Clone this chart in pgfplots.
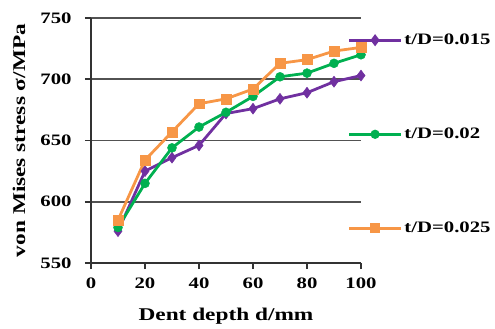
\documentclass[border=0pt]{standalone}
\usepackage{pgfplots}
\pgfplotsset{compat=1.18}
\usepackage{fontspec}
\setmainfont{Liberation Serif}[FakeStretch=1.3]
\definecolor{cpurple}{HTML}{7030A0}
\definecolor{cgreen}{HTML}{00B050}
\definecolor{corange}{HTML}{F79646}
\begin{document}
\begin{tikzpicture}
\begin{axis}[
  scale only axis,
  at={(0,0)}, anchor=south west,
  width=270bp, height=245bp,
  xmin=0, xmax=100, ymin=550, ymax=750,
  xtick={0,20,...,100}, ytick={550,600,...,750},
  axis x line*=bottom, axis y line*=left,
  axis line style={line width=1.6pt, black!80},
  tick style={line width=1.6pt, black!80},
  tick align=outside, major tick length=6bp,
  ymajorgrids, grid style={line width=1.8pt, black!68},
  /pgf/number format/assume math mode=true,
  /pgf/number format/1000 sep={},
  tick label style={font=\bfseries\fontsize{16}{16}\selectfont},
  yticklabel style={xshift=-10bp},
  xticklabel style={yshift=-5bp},
  xlabel={Dent depth d/mm},
  ylabel={von Mises stress σ/MPa},
  xlabel style={yshift=-13bp, font=\bfseries\fontsize{18}{18}\selectfont},
  every axis y label/.style={at={(rel axis cs:0,0.5)}, anchor=center, xshift=-72bp, rotate=90,
    font=\bfseries\fontsize{18}{18}\selectfont},
  clip=false,
  legend cell align=left,
  legend style={at={(rel axis cs:0.950,0.943)}, anchor=north west, draw=none, fill=none,
    font=\bfseries\fontsize{16}{16}\selectfont, row sep=78bp, inner sep=0pt},
  legend image code/.code={\draw[mark repeat=2,mark phase=2, mark options={scale=0.7}] plot coordinates {(0bp,0bp)(26bp,0bp)(52bp,0bp)};},
]
\addplot[cpurple, line width=2.8pt, mark=diamond*, mark size=5.5pt, mark options={solid, line width=0.5pt}] coordinates {
(10,576)(20,625)(30,636)(40,646)(50,672)(60,676)(70,684)(80,689)(90,698)(100,703)};
\addlegendentry{t/D=0.015}
\addplot[cgreen, line width=2.8pt, mark=*, mark size=4.5pt, mark options={solid, line width=0.5pt}] coordinates {
(10,579)(20,615)(30,644)(40,661)(50,673)(60,686)(70,702)(80,705)(90,713)(100,720)};
\addlegendentry{t/D=0.02}
\addplot[corange, line width=2.8pt, mark=square*, mark size=5pt, mark options={solid, line width=0.5pt}] coordinates {
(10,585)(20,634)(30,657)(40,680)(50,684)(60,692)(70,713)(80,716)(90,723)(100,726)};
\addlegendentry{t/D=0.025}
\end{axis}
\pgfresetboundingbox
\path (-91bp,-66bp) rectangle (404bp,263bp);
\end{tikzpicture}
\end{document}
